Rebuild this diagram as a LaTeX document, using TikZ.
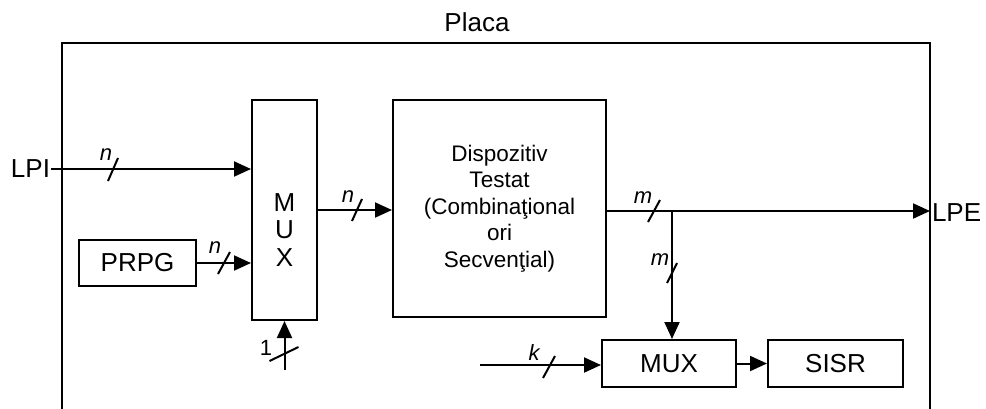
\documentclass[tikz,border=0pt]{standalone}
\usepackage{fontspec}
\setmainfont{Liberation Sans}
\usetikzlibrary{arrows.meta,calc}

\begin{document}
\begin{tikzpicture}[x=1pt,y=-1pt,line width=2pt,
  big/.style={font=\fontsize{26}{30}\selectfont},
  box/.style={draw,line width=2pt,inner sep=0pt,big},
  sig/.style={-{Triangle[length=17pt,width=15pt]}},
  bus/.style={line width=2pt},
  buslbl/.style={inner sep=0pt,font=\fontsize{22}{24}\selectfont\itshape}]

\useasboundingbox (0,0) rectangle (986,408);

% board outline (open at the bottom)
\draw (62,410) -- (62,43) -- (930,43) -- (930,410);
\node[big,inner sep=0pt] (placa) at (477,22) {Placa};

% blocks
\node[box,minimum width=65pt,minimum height=220pt] (mux) at (284.5,210) {};
\node[big,align=center,inner sep=0pt,font=\fontsize{26}{27.5}\selectfont] (muxlbl) at (284.5,230) {M\\U\\X};
\node[box,minimum width=213pt,minimum height=217pt,align=center,
      font=\fontsize{22.5}{26.5}\selectfont] (dut) at (499.5,208.5)
      {Dispozitiv\\Testat\\(Combinaţional\\ori\\Secvenţial)};
\node[box,minimum width=117pt,minimum height=46pt] (prpg) at (137.5,263) {PRPG};
\node[box,minimum width=134pt,minimum height=47pt] (mux2) at (669,363.5) {MUX};
\node[box,minimum width=135pt,minimum height=47pt] (sisr) at (835.5,363.5) {SISR};

% external terminals
\node[big,anchor=east,inner sep=0pt] (lpi) at (51,169) {LPI};
\coordinate (j) at (672,211);
\coordinate (lpeend) at (930,211);
\node[big,anchor=west,inner sep=0pt] (lpe) at (931,213) {LPE};
\coordinate (sel) at (284.5,370);
\coordinate (kin) at (480,365);

% connectors
\draw[sig] (lpi.east) -- (lpi.east -| mux.west);
\draw[sig] (prpg.east) -- (prpg.east -| mux.west);
\draw[sig] (sel) -- (mux.south);
\draw[sig] (mux.east) -- (mux.east -| dut.west);
\draw[sig] (j -| dut.east) -- (lpeend);
\draw[sig] (j) -- (j |- mux2.north);
\draw[sig] (kin) -- (kin -| mux2.west);
\draw[sig] (mux2.east) -- (sisr.west);

% bus width marks
\draw[bus] (113,169) ++(-5,12) -- ++(10,-23);
\node[buslbl] (ln1) at (106,155) {n};
\draw[bus] (224,263) ++(-6,11) -- ++(12,-22);
\node[buslbl] (ln2) at (215,248) {n};
\draw[bus] (357,210) ++(-5,11) -- ++(10,-22);
\node[buslbl] (ln3) at (348,197) {n};
\draw[bus] (654,211) ++(-6,11) -- ++(12,-22);
\node[buslbl] (lm1) at (643,198) {m};
\draw[bus] (672,273) ++(-5,10) -- ++(10,-20);
\node[buslbl] (lm2) at (660,260) {m};
\draw[bus] (284.5,354) ++(-15,7) -- ++(29,-14);
\node[inner sep=0pt,font=\fontsize{22}{24}\selectfont] (l1) at (266,348) {1};
\draw[bus] (549,367) ++(-6,11) -- ++(12,-22);
\node[buslbl] (lk) at (534,353) {k};

\end{tikzpicture}
\end{document}
